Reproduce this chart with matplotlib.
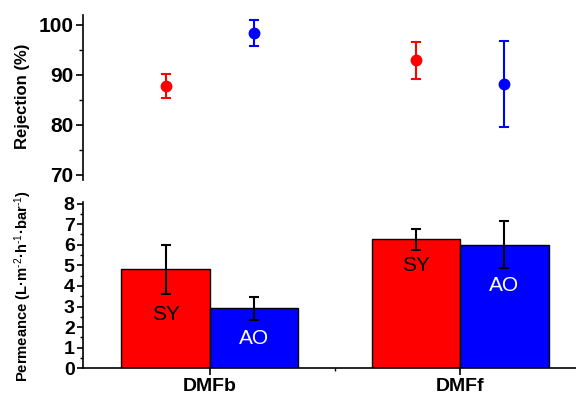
import matplotlib
matplotlib.use("Agg")
import matplotlib.pyplot as plt
from matplotlib.ticker import MultipleLocator, FixedLocator
import numpy as np

plt.rcParams['font.family'] = ['Liberation Sans', 'DejaVu Sans']
plt.rcParams['mathtext.fontset'] = 'custom'
plt.rcParams['mathtext.rm'] = 'Liberation Sans'
plt.rcParams['mathtext.it'] = 'Liberation Sans:italic'
plt.rcParams['mathtext.bf'] = 'Liberation Sans:bold'
plt.rcParams['mathtext.default'] = 'bf'

categories = ["DMFb", "DMFf"]
series = ["SY", "AO"]
colors = ["#ff0000", "#0000ff"]

rejection = {"SY": [87.8, 92.9], "AO": [98.4, 88.2]}
rejection_err = {"SY": [2.45, 3.65], "AO": [2.6, 8.65]}

permeance = {"SY": [4.80, 6.26], "AO": [2.91, 6.00]}
permeance_err = {"SY": [1.17, 0.50], "AO": [0.57, 1.15]}

fig = plt.figure(figsize=(5.76, 3.94), dpi=100)
left, right = 83 / 576, 576 / 576
ax_top = fig.add_axes([left, 1 - 180 / 394, right - left, (180 - 15) / 394])
ax_bot = fig.add_axes([left, 1 - 368.3 / 394, right - left, (368.3 - 201.5) / 394])

x = np.arange(1, len(categories) + 1)
w = 0.353
offsets = [-w / 2, w / 2]
xlim = (0.494, 2.462)

# Top: rejection
for s, c, off in zip(series, colors, offsets):
    ax_top.errorbar(x + off, rejection[s], yerr=rejection_err[s], fmt='o', color=c,
                    ecolor=c, markersize=7.5, elinewidth=1.5, capsize=3.5, capthick=1.5)
ax_top.set_xlim(*xlim)
ax_top.set_ylim(68.9, 102)
for sp in ['top', 'right', 'bottom']:
    ax_top.spines[sp].set_visible(False)
ax_top.spines['left'].set_linewidth(1.2)
ax_top.set_xticks([])
ax_top.yaxis.set_major_locator(FixedLocator([70, 80, 90, 100]))
ax_top.yaxis.set_minor_locator(FixedLocator([75, 85, 95]))
ax_top.tick_params(axis='y', which='major', direction='out', length=5, width=1.2,
                   labelsize=15, pad=2)
ax_top.tick_params(axis='y', which='minor', direction='out', length=3, width=1.0)
for lb in ax_top.get_yticklabels():
    lb.set_fontweight('bold')

# Bottom: permeance
for s, c, off in zip(series, colors, offsets):
    ax_bot.bar(x + off, permeance[s], width=w, color=c, edgecolor='black', linewidth=1.0,
               yerr=permeance_err[s], error_kw=dict(ecolor='black', elinewidth=1.5,
                                                    capsize=3.5, capthick=1.5))
ax_bot.set_xlim(*xlim)
ax_bot.set_ylim(0, 8.1)
for sp in ['top', 'right']:
    ax_bot.spines[sp].set_visible(False)
ax_bot.spines['left'].set_linewidth(1.2)
ax_bot.spines['bottom'].set_linewidth(1.2)
ax_bot.yaxis.set_major_locator(MultipleLocator(1))
ax_bot.yaxis.set_minor_locator(MultipleLocator(0.5))
ax_bot.set_xticks(x)
ax_bot.set_xticklabels(categories, fontsize=14, fontweight='bold')
ax_bot.xaxis.set_minor_locator(FixedLocator([1.5]))
ax_bot.tick_params(axis='y', which='major', direction='out', length=4, width=1.2,
                   labelsize=14, pad=2)
ax_bot.tick_params(axis='y', which='minor', direction='out', length=2.5, width=1.0)
ax_bot.tick_params(axis='x', which='major', direction='out', length=5, width=1.2, pad=2)
ax_bot.tick_params(axis='x', which='minor', direction='out', length=2.5, width=1.0)
for lb in ax_bot.get_yticklabels():
    lb.set_fontweight('bold')

# In-bar labels
label_y = {"SY": [2.6, 5.0], "AO": [1.47, 4.0]}
label_color = {"SY": "black", "AO": "white"}
for s, off in zip(series, offsets):
    for xi, yi in zip(x, label_y[s]):
        ax_bot.text(xi + off, yi, s, ha='center', va='center', fontsize=15,
                    color=label_color[s])

fig.text(23 / 576, 1 - 96.5 / 394, "Rejection (%)", rotation=90, ha='center',
         va='center', fontsize=12, fontweight='bold')
fig.text(23 / 576, 1 - 286.5 / 394,
         "Permeance (L·m$^{\\text{-2}}$·h$^{\\text{-1}}$·bar$^{\\text{-1}}$)",
         rotation=90, ha='center', va='center', fontsize=10.6, fontweight='bold')

fig.savefig("out.png", dpi=100)
